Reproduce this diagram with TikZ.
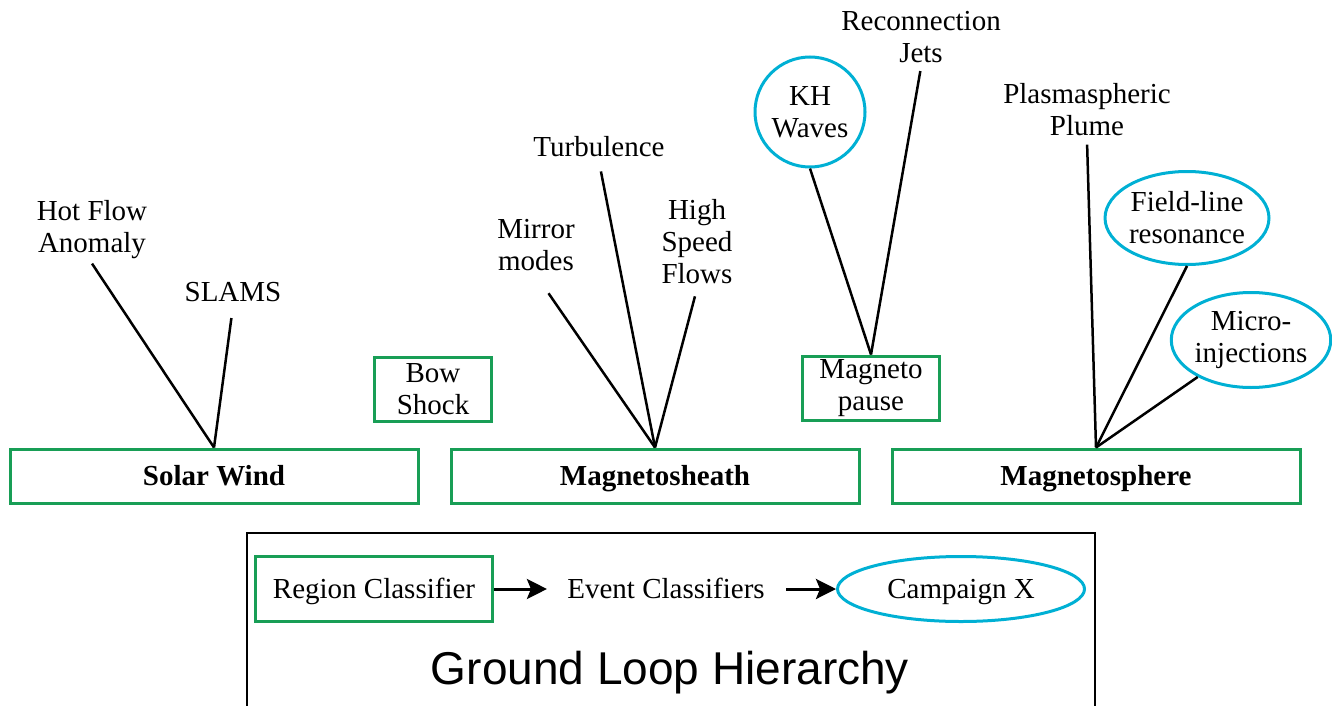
\documentclass[tikz,border=0pt]{standalone}
\usepackage{fontspec}
\setmainfont{Liberation Serif}
\newfontfamily\titlefont{Liberation Sans}
\usetikzlibrary{shapes.geometric, arrows.meta, positioning}
\definecolor{regiongreen}{RGB}{24,158,86}
\definecolor{eventcyan}{RGB}{0,176,212}
\tikzstyle{region} = [rectangle, draw=regiongreen, line width=1.5pt, align=center, inner sep=0pt]
\tikzstyle{event} = [ellipse, draw=eventcyan, line width=1.5pt, align=center, inner sep=0pt]
\tikzstyle{evtext} = [align=center, inner sep=2pt]
\tikzstyle{oneline} = [text height=9.5pt, text depth=0pt]
\tikzstyle{link} = [line width=1.25pt]
\tikzstyle{arrow} = [line width=1.5pt,-{Stealth[length=10pt,width=10pt,inset=2pt]}]

\begin{document}
\begin{tikzpicture}[x=0.5pt, y=-0.5pt, font=\fontsize{14.5}{16}\selectfont]
    \useasboundingbox (0,0) rectangle (1332,706);

    % Regions
    \node [region, oneline, minimum width=204pt, minimum height=27pt] (sw) at (214,476) {\bfseries Solar Wind};
    \node [region, oneline, minimum width=204pt, minimum height=27pt] (msh) at (655,476) {\bfseries Magnetosheath};
    \node [region, oneline, minimum width=204pt, minimum height=27pt] (msp) at (1096,476) {\bfseries Magnetosphere};
    \node [region, minimum width=58.5pt, minimum height=32pt] (bow) at (433,389) {Bow\\Shock};
    \node [region, minimum width=68.5pt, minimum height=32pt] (mp) at (871,388) {Magneto\\pause};

    % Events
    \node [evtext] (hfa) at (92,230) {Hot Flow\\Anomaly};
    \node [evtext] (slams) at (233,292) {SLAMS};
    \node [evtext] (mirror) at (536,245) {Mirror\\modes};
    \node [evtext] (turb) at (599,147) {Turbulence};
    \node [evtext] (hsf) at (697,242) {High\\Speed\\Flows};
    \node [event, minimum width=55pt, minimum height=55pt] (kh) at (810,112) {KH\\Waves};
    \node [evtext] (recon) at (921,37) {Reconnection\\Jets};
    \node [evtext] (plume) at (1087,110) {Plasmaspheric\\Plume};
    \node [event, minimum width=79.5pt, minimum height=46.5pt] (flr) at (1187,218) {Field-line\\resonance};
    \node [event, minimum width=79.5pt, minimum height=47.5pt] (micro) at (1251,340) {Micro-\\injections};

    % Links
    \draw [link] (sw.north) -- (hfa.south);
    \draw [link, shorten >=6pt] (sw.north) -- (slams.south);
    \draw [link, shorten >=11pt] (msh.north) -- (mirror.south);
    \draw [link, shorten >=5pt] (msh.north) -- (turb.south);
    \draw [link, shorten >=4pt] (msh.north) -- (hsf.south);
    \draw [link] (mp.north) -- (kh.south);
    \draw [link, shorten >=2pt] (mp.north) -- (recon.south);
    \draw [link, shorten >=2pt] (msp.north) -- (plume.south);
    \draw [link] (msp.north) -- (flr.south);
    \draw [link] (msp.north) -- (micro);

    % Ground loop
    \draw [line width=1pt] (247,706) |- (1095,533) -- (1095,706);
    \node [region, oneline, minimum width=118.5pt, minimum height=32.5pt] (rc) at (374,589) {Region Classifier};
    \node [oneline, inner sep=0pt] (ec) at (666,589) {Event Classifiers};
    \node [event, oneline, minimum width=123.5pt, minimum height=32.5pt] (cx) at (961,589) {Campaign X};
    \draw [arrow, shorten >=10pt] (rc.east) -- (ec.west);
    \draw [arrow, shorten <=10.5pt] (ec.east) -- (cx.west);
    \node [font=\titlefont\fontsize{23}{26}\selectfont] (title) at (670,673) {Ground Loop Hierarchy};
\end{tikzpicture}
\end{document}
